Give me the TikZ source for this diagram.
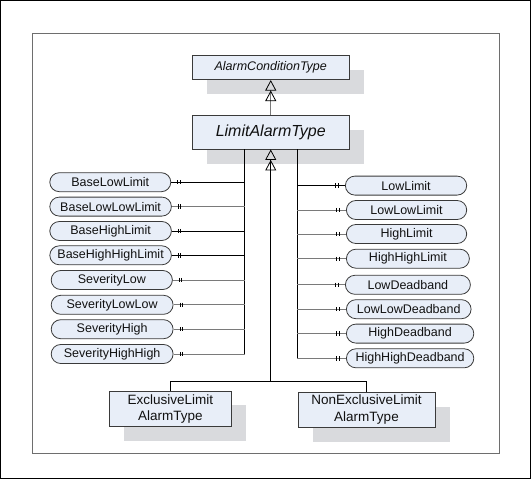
\documentclass[tikz,border=0pt]{standalone}
\usepackage{fontspec}
\setmainfont{Liberation Sans}
\usetikzlibrary{arrows.meta,shadows}
\definecolor{boxfill}{HTML}{E8EEF8}
\definecolor{shadowc}{HTML}{D9DADD}
\definecolor{edgec}{HTML}{3A3A3A}
\definecolor{lgray}{HTML}{7A7A7A}
\definecolor{framec}{HTML}{6E6E6E}
\definecolor{txt}{HTML}{111111}
\begin{document}
\begin{tikzpicture}[x=1pt,y=-1pt,
  typebox/.style={draw=edgec, line width=0.9pt, fill=boxfill, inner sep=0pt, align=center, text=txt,
    general shadow={fill=shadowc, draw=none, shadow xshift=14.5pt, shadow yshift=-14.5pt}},
  prop/.style={draw=edgec, line width=0.8pt, fill=boxfill, rounded corners=9.5pt, inner sep=0pt,
    minimum height=19pt, text=txt, font=\fontsize{12.5}{14}\selectfont},
  inh/.style={-{Triangle[open,width=11pt,length=10.5pt,sep=0pt,color=black,line width=0.8pt]Triangle[open,width=11pt,length=10.5pt,color=black,line width=0.8pt]}},
  blk/.style={draw=black, line width=1pt},
  gry/.style={draw=lgray, line width=1pt},
  tick/.style={draw=black, line width=0.7pt}
]
\useasboundingbox (0,0) rectangle (531,479);
\draw[black, line width=1pt] (0.5,0.5) rectangle (530.5,478.5);
\draw[framec, line width=0.9pt] (32,33) rectangle (499,453);

% type boxes
\node[typebox, minimum width=157.5pt, minimum height=24.6pt, font=\itshape\fontsize{12.5}{14}\selectfont]
  (act) at (270.75,67.3) {AlarmConditionType};
\node[typebox, minimum width=157.5pt, minimum height=34pt, font=\itshape\fontsize{16}{18}\selectfont]
  (lat) at (270.75,132) {LimitAlarmType};
\node[typebox, minimum width=122.6pt, minimum height=35.7pt, font=\fontsize{13.5}{16.3}\selectfont]
  (exc) at (170.3,408.8) {ExclusiveLimit\\AlarmType};
\node[typebox, minimum width=137pt, minimum height=35pt, font=\fontsize{13.5}{16.3}\selectfont]
  (nexc) at (366.5,409.5) {NonExclusiveLimit\\AlarmType};

% left properties
\node[prop, anchor=west, minimum width=121pt] (l1) at (49.4,182.2) {BaseLowLimit};
\node[prop, anchor=west, minimum width=121.6pt] (l2) at (49.4,206.6) {BaseLowLowLimit};
\node[prop, anchor=west, minimum width=121.6pt] (l3) at (49.4,231) {BaseHighLimit};
\node[prop, anchor=west, minimum width=121.6pt] (l4) at (49.4,255.3) {BaseHighHighLimit};
\node[prop, anchor=west, minimum width=121.2pt] (l5) at (50.8,280) {SeverityLow};
\node[prop, anchor=west, minimum width=121.9pt] (l6) at (50.8,304.8) {SeverityLowLow};
\node[prop, anchor=west, minimum width=121.9pt] (l7) at (50.8,329.2) {SeverityHigh};
\node[prop, anchor=west, minimum width=121.9pt] (l8) at (50.8,354) {SeverityHighHigh};

% right properties
\node[prop, anchor=west, minimum width=121.3pt] (r1) at (345,185.6) {LowLimit};
\node[prop, anchor=west, minimum width=120.3pt] (r2) at (346,210) {LowLowLimit};
\node[prop, anchor=west, minimum width=120.3pt] (r3) at (346,234) {HighLimit};
\node[prop, anchor=west, minimum width=123pt] (r4) at (346,258.7) {HighHighLimit};
\node[prop, anchor=west, minimum width=125pt] (r5) at (345,284.8) {LowDeadband};
\node[prop, anchor=west, minimum width=124.7pt] (r6) at (346,309.2) {LowLowDeadband};
\node[prop, anchor=west, minimum width=127.4pt] (r7) at (346,333.6) {HighDeadband};
\node[prop, anchor=west, minimum width=127.4pt] (r8) at (346,358.3) {HighHighDeadband};

% bus coordinates
\coordinate (lb) at (244.5,354);
\coordinate (rb) at (297.3,358.3);
\coordinate (j) at (270.75,381.6);

% inheritance
\draw[inh, draw=lgray, line width=1pt] (lat.north) -- (act.south);
\draw[inh, draw=black, line width=1.2pt] (j) -- (lat.south);
\draw[draw=black, line width=0.9pt] (exc.north) |- (j);
\draw[draw=black, line width=0.9pt] (nexc.north) |- (j);

% buses
\draw[draw=black, line width=1.3pt] (lat.south -| lb) -- (lb);
\draw[draw=black, line width=1.1pt] (lat.south -| rb) -- (rb);

% left connectors
\draw[blk] (l1.east) -- (l1.east -| lb);
\draw[gry] (l2.east) -- (l2.east -| lb);
\draw[blk] (l3.east) -- (l3.east -| lb);
\draw[blk] (l4.east) -- (l4.east -| lb);
\draw[gry] (l5.east) -- (l5.east -| lb);
\draw[gry] (l6.east) -- (l6.east -| lb);
\draw[gry] (l7.east) -- (l7.east -| lb);
\draw[gry] (l8.east) -- (lb);

% right connectors
\draw[blk] (r1.west) -- (r1.west -| rb);
\draw[gry] (r2.west) -- (r2.west -| rb);
\draw[gry] (r3.west) -- (r3.west -| rb);
\draw[gry] (r4.west) -- (r4.west -| rb);
\draw[gry] (r5.west) -- (r5.west -| rb);
\draw[gry] (r6.west) -- (r6.west -| rb);
\draw[gry] (r7.west) -- (r7.west -| rb);
\draw[gry] (r8.west) -- (rb);

% cardinality ticks
\foreach \n in {l1,l2,l3,l4,l5,l6,l7,l8} {
  \draw[tick] ([xshift=6.5pt,yshift=2.2pt]\n.east) -- ([xshift=6.5pt,yshift=-2.2pt]\n.east);
  \draw[tick] ([xshift=9pt,yshift=2.2pt]\n.east) -- ([xshift=9pt,yshift=-2.2pt]\n.east);
}
\foreach \n in {r1,r2,r3,r4,r5,r6,r7,r8} {
  \draw[tick] ([xshift=-6.8pt,yshift=2.2pt]\n.west) -- ([xshift=-6.8pt,yshift=-2.2pt]\n.west);
  \draw[tick] ([xshift=-9.4pt,yshift=2.2pt]\n.west) -- ([xshift=-9.4pt,yshift=-2.2pt]\n.west);
}
\end{tikzpicture}
\end{document}
